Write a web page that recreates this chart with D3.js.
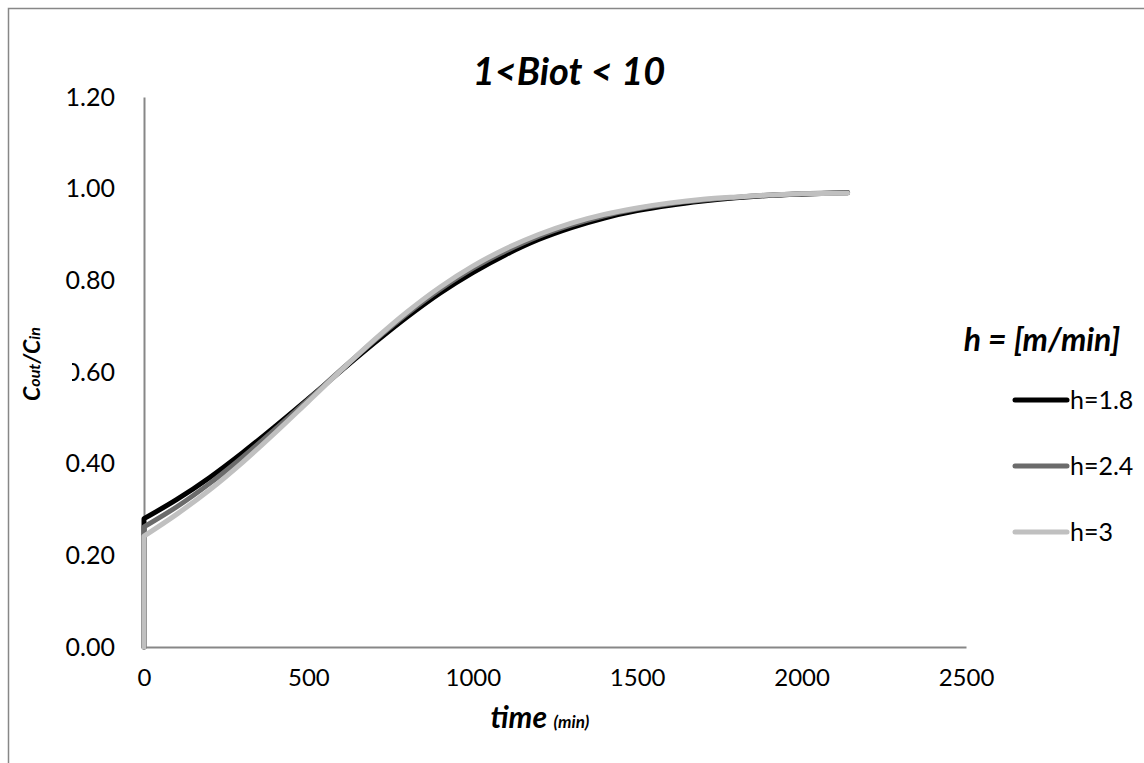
<!DOCTYPE html>
<html>
<head>
<meta charset="utf-8">
<script src="https://cdn.jsdelivr.net/npm/d3@7"></script>
<style>
  html, body { margin: 0; padding: 0; background: #fff; }
  svg { display: block; }
  text { font-family: Lato, "Open Sans", "Liberation Sans", sans-serif; fill: #000; }
</style>
</head>
<body>
<svg id="chart" width="1144" height="763"></svg>
<script>
// Breakthrough curves, Cout/Cin versus time, for three film coefficients h
const times = [0, 100, 200, 300, 400, 500, 600, 700, 800, 900, 1000, 1100, 1200,
               1300, 1400, 1500, 1600, 1700, 1800, 1900, 2000, 2140];
const h18 = [0.280, 0.322, 0.370, 0.424, 0.482, 0.542, 0.603, 0.663, 0.720, 0.772, 0.817,
             0.856, 0.889, 0.915, 0.936, 0.952, 0.964, 0.973, 0.980, 0.985, 0.988, 0.991];
const h24 = [0.262, 0.306, 0.357, 0.414, 0.476, 0.540, 0.605, 0.668, 0.727, 0.780, 0.826,
             0.864, 0.896, 0.921, 0.941, 0.956, 0.967, 0.975, 0.981, 0.986, 0.989, 0.991];
const h30 = [0.242, 0.290, 0.343, 0.403, 0.468, 0.536, 0.604, 0.670, 0.731, 0.785, 0.831,
             0.869, 0.900, 0.925, 0.944, 0.958, 0.969, 0.977, 0.982, 0.986, 0.989, 0.990];
const seriesNames = ["h=1.8", "h=2.4", "h=3"];
const seriesColors = ["#000000", "#6b6b6b", "#c0c0c0"];
const xTicks = [0, 500, 1000, 1500, 2000, 2500];
const yTicks = [0, 0.2, 0.4, 0.6, 0.8, 1.0, 1.2];

const series = [h18, h24, h30].map((vals, i) => ({
  name: seriesNames[i],
  color: seriesColors[i],
  points: times.map((t, j) => ({ t, v: vals[j] }))
}));

const svg = d3.select("#chart");
const axisColor = "#878787";

// outer frame (left and top edges)
svg.append("path")
  .attr("d", "M8.5,763 L8.5,8.5 L1144,8.5")
  .attr("fill", "none").attr("stroke", axisColor).attr("stroke-width", 1.5);

const x = d3.scaleLinear().domain([0, 2500]).range([144, 966]);
const y = d3.scaleLinear().domain([0, 1.2]).range([647, 97]);

// axes: plain lines, labels only
const xAxis = d3.axisBottom(x).tickValues(xTicks).tickSize(0).tickPadding(31)
  .tickFormat(d3.format("d"));
const yAxis = d3.axisLeft(y).tickValues(yTicks).tickSize(0).tickPadding(29)
  .tickFormat(d3.format(".2f"));

const gx = svg.append("g").attr("transform", `translate(0,${y(0)})`).call(xAxis);
const gy = svg.append("g").attr("transform", `translate(${x(0)},0)`).call(yAxis);
[gx, gy].forEach(g => {
  g.select(".domain").attr("stroke", axisColor).attr("stroke-width", 2);
  g.selectAll(".tick text").attr("fill", "#000");
});
gx.selectAll(".tick text").style("font-size", "24px").attr("dy", "0.35em");
gy.selectAll(".tick text").style("font-size", "25px");

// curves: vertical rise at t = 0, then smooth breakthrough
const lineGen = d3.line().x(d => x(d.t)).y(d => y(d.v)).curve(d3.curveCatmullRom.alpha(0.5));
const plot = svg.append("g");
series.forEach(s => {
  const curve = lineGen(s.points);
  const d = `M${x(0)},${y(0)}L` + curve.slice(1);
  plot.append("path")
    .attr("d", d)
    .attr("fill", "none")
    .attr("stroke", s.color)
    .attr("stroke-width", 5)
    .attr("stroke-linecap", "round")
    .attr("stroke-linejoin", "round");
});

// title
svg.append("text")
  .attr("x", 569).attr("y", 85)
  .attr("text-anchor", "middle")
  .style("font-size", "38px").style("font-weight", "bold").style("font-style", "italic")
  .text("1<Biot < 10");

// x axis title
const xt = svg.append("text")
  .attr("x", 540).attr("y", 728)
  .attr("text-anchor", "middle")
  .style("font-weight", "bold").style("font-style", "italic");
xt.append("tspan").style("font-size", "30px").text("time ");
xt.append("tspan").style("font-size", "17px").text("(min)");

// y axis title on a white box
svg.append("rect")
  .attr("x", 12).attr("y", 316).attr("width", 60).attr("height", 102)
  .attr("fill", "#fff");
const yt = svg.append("text")
  .attr("transform", "translate(40,364) rotate(-90)")
  .attr("text-anchor", "middle")
  .style("font-weight", "bold").style("font-style", "italic").style("font-size", "23px");
yt.append("tspan").text("C");
yt.append("tspan").style("font-size", "16px").text("out");
yt.append("tspan").text("/C");
yt.append("tspan").style("font-size", "16px").text("in");

// legend
svg.append("text")
  .attr("x", 1042).attr("y", 351)
  .attr("text-anchor", "middle")
  .style("font-size", "32px").style("font-weight", "bold").style("font-style", "italic")
  .text("h = [m/min]");

const legend = svg.append("g");
series.forEach((s, i) => {
  const ly = 400 + i * 66;
  legend.append("line")
    .attr("x1", 1015).attr("x2", 1067).attr("y1", ly).attr("y2", ly)
    .attr("stroke", s.color).attr("stroke-width", 5).attr("stroke-linecap", "round");
  legend.append("text")
    .attr("x", 1070).attr("y", ly).attr("dy", "0.35em")
    .style("font-size", "25px")
    .text(s.name);
});
</script>
</body>
</html>
